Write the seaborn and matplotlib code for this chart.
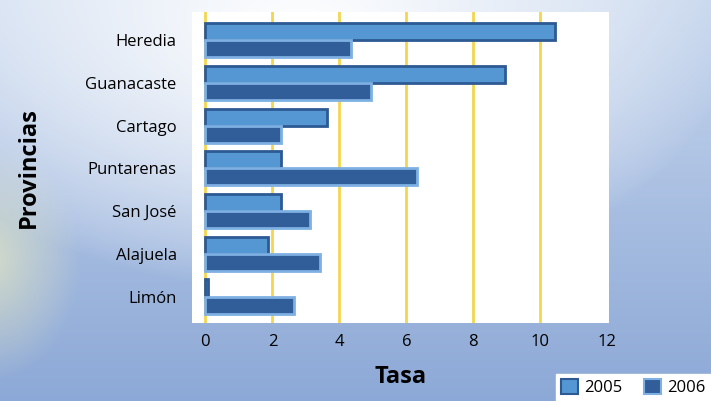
import numpy as np
import pandas as pd
import matplotlib
matplotlib.use("Agg")
import matplotlib.pyplot as plt
import seaborn as sns
from matplotlib.patches import Patch

provincias = ["Heredia", "Guanacaste", "Cartago", "Puntarenas", "San José", "Alajuela", "Limón"]
tasa_2005 = [10.45, 8.95, 3.62, 2.25, 2.26, 1.86, 0.08]
tasa_2006 = [4.35, 4.95, 2.25, 6.33, 3.12, 3.41, 2.65]
years = ["2005", "2006"]
xticks = [0, 2, 4, 6, 8, 10, 12]

df = pd.DataFrame({
    "Provincias": provincias * 2,
    "Tasa": tasa_2005 + tasa_2006,
    "Año": [years[0]] * len(provincias) + [years[1]] * len(provincias),
})

sns.set_style("white")
plt.rcParams["font.family"] = ["Open Sans", "DejaVu Sans"]

W, H = 711, 401
fig = plt.figure(figsize=(W / 100, H / 100), dpi=100)

# background gradient
bg = fig.add_axes([0, 0, 1, 1], zorder=-10)
yy, xx = np.mgrid[0:H, 0:W].astype(float)
top = np.array([0.78, 0.84, 0.93])
bottom = np.array([0.55, 0.66, 0.84])
t = (yy / H)[..., None]
img = top * (1 - t) + bottom * t
# white glow, broad across the upper middle
d = np.sqrt(((xx - 300) / 430.0) ** 2 + ((yy - 30) / 260.0) ** 2)
g = (np.clip(1 - d, 0, 1) ** 0.8)[..., None]
img = img * (1 - g) + np.array([1.0, 1.0, 1.0]) * g
# yellowish glow on the left
d2 = np.sqrt(((xx + 10) / 90.0) ** 2 + ((yy - 260) / 120.0) ** 2)
g2 = (np.clip(1 - d2, 0, 1) * 0.75)[..., None]
img = img * (1 - g2) + np.array([0.89, 0.90, 0.76]) * g2
bg.imshow(np.clip(img, 0, 1), aspect="auto", extent=[0, 1, 0, 1])
bg.axis("off")

ax = fig.add_axes([192 / W, (H - 323) / H, (609 - 192) / W, (323 - 12) / H])
ax.set_facecolor("white")

c2005 = "#5597d3"
c2006 = "#315e99"
sns.barplot(data=df, y="Provincias", x="Tasa", hue="Año", orient="h",
            palette=[c2005, c2006], saturation=1, width=0.8, ax=ax,
            legend=False, zorder=3)

for bar in ax.containers[0]:
    bar.set_edgecolor("#2e5a94")
    bar.set_linewidth(2.0)
for bar in ax.containers[1]:
    bar.set_edgecolor("#7fb0e4")
    bar.set_linewidth(2.0)

ax.set_xlim(-0.4, 12.05)
ax.set_ylim(6.62, -0.66)
ax.set_xticks(xticks)
ax.set_xticklabels([str(v) for v in xticks])
for v in xticks[:-1]:
    ax.axvline(v, color="#f4d64e", lw=2.0, zorder=1)
ax.grid(False)
for s in ax.spines.values():
    s.set_visible(False)
ax.tick_params(axis="both", length=0, labelsize=12, colors="black")
ax.tick_params(axis="y", pad=11)
ax.tick_params(axis="x", pad=8)

ax.set_xlabel("Tasa", fontsize=17, fontweight="bold", labelpad=11, color="black")
ax.set_ylabel("Provincias", fontsize=17, fontweight="bold", labelpad=32, color="black")

handles = [Patch(facecolor=c2005, edgecolor="#2e5a94", linewidth=1.5, label="2005"),
           Patch(facecolor=c2006, edgecolor="#7fb0e4", linewidth=1.5, label="2006")]
leg = fig.legend(handles=handles, loc="lower right", bbox_to_anchor=(1.0, 0.0),
                 ncol=2, frameon=True, fontsize=12, handlelength=1.0, handleheight=1.0,
                 handletextpad=0.4, columnspacing=1.3, borderpad=0.3, borderaxespad=0.0)
for txt in leg.get_texts():
    txt.set_color("black")
leg.get_frame().set_facecolor("white")
leg.get_frame().set_edgecolor("white")
leg.get_frame().set_boxstyle("square", pad=0.0)
leg.get_frame().set_alpha(1.0)

fig.savefig("out.png", dpi=100)
